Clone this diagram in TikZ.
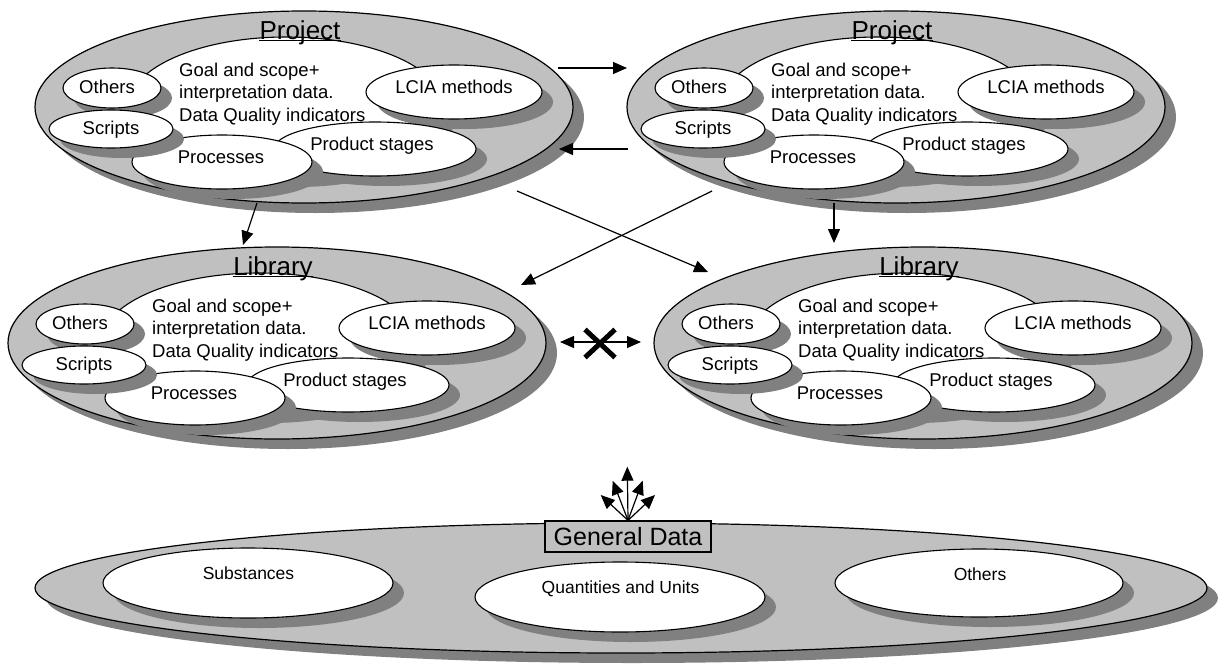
\documentclass[tikz,border=0pt]{standalone}
\usepackage{fontspec}
\setmainfont{Liberation Sans}
\usetikzlibrary{arrows.meta,shapes.geometric,shapes.misc}
\definecolor{panelgray}{HTML}{C0C0C0}
\definecolor{shadowgray}{HTML}{808080}
\tikzset{
  outerell/.style={ellipse, draw=black, fill=panelgray, line width=1.2pt, inner sep=0pt},
  innerell/.style={ellipse, draw=black, fill=white, line width=1.1pt, inner sep=0pt},
  lbl/.style={inner sep=0pt, text height=13.2pt, text depth=0pt, font=\fontsize{18.5}{22.5}\selectfont},
  blocktxt/.style={inner sep=0pt, align=left, font=\fontsize{18.5}{22.5}\selectfont},
  titletxt/.style={inner sep=0pt, font=\fontsize{26}{30}\selectfont},
  smalllbl/.style={inner sep=0pt, text height=12.5pt, text depth=0pt, font=\fontsize{17.5}{21}\selectfont},
  databox/.style={draw=black, fill=panelgray, line width=1.2pt, inner sep=0pt,
    minimum width=166pt, minimum height=31pt, font=\fontsize{25}{30}\selectfont},
  conn/.style={line width=1.2pt, -{Triangle[length=14pt,width=12pt]}},
  bothconn/.style={line width=1.2pt, {Triangle[length=14pt,width=12pt]}-{Triangle[length=14pt,width=12pt]}},
  nocross/.style={cross out, draw=black, line width=5pt, minimum width=25pt, minimum height=23pt, inner sep=0pt},
}
% oval with a drop shadow: style, name, x, y, x radius, y radius
\newcommand\shadowoval[6]{%
  \fill[shadowgray] (#3+11,#4+10) ellipse [x radius=#5, y radius=#6];
  \node[#1, minimum width=2*#5pt, minimum height=2*#6pt] (#2) at (#3,#4) {};
}
% one data container: prefix, centre x, centre y, title
\newcommand\drawcluster[4]{%
  \begin{scope}[shift={(#2,#3)}]
    \shadowoval{outerell}{#1-outer}{0}{0}{269}{96}
    \shadowoval{innerell}{#1-goal}{-18}{0}{158}{70}
    \shadowoval{innerell}{#1-lcia}{150}{-15}{88}{27}
    \shadowoval{innerell}{#1-stages}{71}{42}{101}{27}
    \shadowoval{innerell}{#1-proc}{-82}{55}{90}{27}
    \shadowoval{innerell}{#1-others}{-192}{-19}{49}{20}
    \shadowoval{innerell}{#1-scripts}{-193}{22}{62}{19}
    \node[blocktxt, anchor=north west] (#1-goaltxt) at (-125,-44.5)
      {Goal and scope+\\interpretation data.\\Data Quality indicators};
    \node[lbl] (#1-lciatxt) at (150,-20) {LCIA methods};
    \node[lbl] (#1-stagestxt) at (68,37) {Product stages};
    \node[lbl] (#1-proctxt) at (-83,50) {Processes};
    \node[lbl] (#1-otherstxt) at (-197,-20) {Others};
    \node[lbl] (#1-scriptstxt) at (-193,20.5) {Scripts};
    \node[titletxt, anchor=base] (#1-title) at (-4,-68) {#4};
    \draw[line width=1.1pt] ([yshift=-1.5pt]#1-title.base west) -- ([yshift=-1.5pt]#1-title.base east);
  \end{scope}%
}
\begin{document}
\begin{tikzpicture}[x=1pt,y=-1pt]
\useasboundingbox (0,0) rectangle (1224,664);
\fill[white] (0,0) rectangle (1224,664);

% projects and libraries
\drawcluster{pl}{304}{107}{Project}
\drawcluster{pr}{896}{107}{Project}
\drawcluster{ll}{277}{343}{Library}
\drawcluster{lr}{923}{343}{Library}

% general data
\shadowoval{outerell}{gen}{621}{588}{586}{65}
\shadowoval{innerell}{subst}{248}{583}{145}{35}
\shadowoval{innerell}{qty}{620}{597}{145}{35}
\shadowoval{innerell}{gothers}{979}{583}{144}{34}
\node[smalllbl] (substtxt) at (248.5,573.5) {Substances};
\node[smalllbl] (qtytxt) at (620.5,587) {Quantities and Units};
\node[smalllbl] (gotherstxt) at (980,574) {Others};
\node[databox] (gd) at (628,536.5) {General Data};

% connector end points
\coordinate (ppa) at (558,68);   \coordinate (ppb) at (627,68);
\coordinate (ppc) at (628,149);  \coordinate (ppd) at (559,149);
\coordinate (pla) at (257,203);  \coordinate (llb) at (243,245);
\coordinate (pra) at (834,203);  \coordinate (lrb) at (834,243);
\coordinate (plx) at (517,191);  \coordinate (lrx) at (708,272);
\coordinate (prx) at (712,191);  \coordinate (llx) at (521,285);
\coordinate (lla) at (560,342);  \coordinate (lra) at (641,342);
\coordinate (f1) at (627.3,466.7);
\coordinate (f2) at (612.7,480.7);
\coordinate (f3) at (642.7,480.7);
\coordinate (f4) at (600.7,495);
\coordinate (f5) at (655,495);

% connectors
\draw[conn] (ppa) -- (ppb);
\draw[conn] (ppc) -- (ppd);
\draw[conn] (pla) -- (llb);
\draw[conn] (pra) -- (lrb);
\draw[conn] (plx) -- (lrx);
\draw[conn] (prx) -- (llx);
\draw[bothconn] (lla) -- (lra);
\node[nocross] (nox) at (600,343.5) {};
\foreach \tip in {f1,f2,f3,f4,f5}
  \draw[conn] (gd.north) -- (\tip);
\end{tikzpicture}
\end{document}
